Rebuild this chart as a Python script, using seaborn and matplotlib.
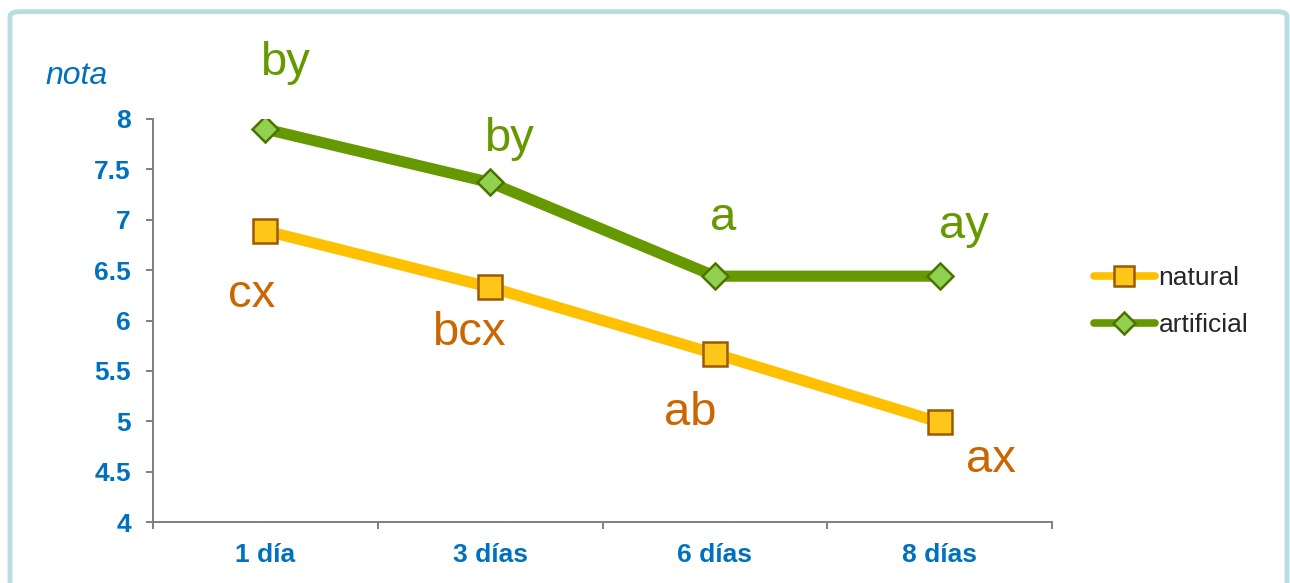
import matplotlib
matplotlib.use('Agg')
import matplotlib.pyplot as plt
from matplotlib.patches import FancyBboxPatch
import pandas as pd
import seaborn as sns

# datos
dias = ['1 día', '3 días', '6 días', '8 días']
natural = [6.89, 6.33, 5.67, 4.99]
artificial = [7.90, 7.37, 6.44, 6.44]
letras_natural = ['cx', 'bcx', 'ab', 'ax']
letras_artificial = ['by', 'by', 'a', 'ay']
yticks = [4, 4.5, 5, 5.5, 6, 6.5, 7, 7.5, 8]

df = pd.DataFrame({'dia': list(range(len(dias))) * 2,
                   'nota': natural + artificial,
                   'serie': ['natural'] * 4 + ['artificial'] * 4})

sns.set_style('white')
plt.rcParams['font.family'] = ['Liberation Sans', 'DejaVu Sans']

fig = plt.figure(figsize=(12.9, 5.83), dpi=100)
ax = fig.add_axes([153 / 1290, 1 - 522 / 583, 899 / 1290, 403 / 583])

# marco azul claro
marco = FancyBboxPatch((10 / 1290, -0.05), 1277 / 1290, 1.03,
                       boxstyle='round,pad=0,rounding_size=0.008',
                       transform=fig.transFigure, fill=False,
                       edgecolor='#B7DEE1', linewidth=3.5, zorder=0)
fig.patches.append(marco)

sns.lineplot(data=df[df['serie'] == 'natural'], x='dia', y='nota', ax=ax,
             color='#FFC000', lw=8, marker='s', markersize=17,
             markerfacecolor='#FFC61A', markeredgecolor='#9C5A00',
             markeredgewidth=1.8, label='natural', solid_capstyle='round')
sns.lineplot(data=df[df['serie'] == 'artificial'], x='dia', y='nota', ax=ax,
             color='#669900', lw=8, marker='D', markersize=13,
             markerfacecolor='#92D050', markeredgecolor='#4A7300',
             markeredgewidth=1.8, label='artificial', solid_capstyle='round')

# letras de significancia
off_art = [(20, 66), (19, 43), (8, 58), (24, 50)]
off_nat = [(-14, -64), (-21, -46), (-25, -59), (51, -38)]
for i in range(len(dias)):
    ax.annotate(letras_artificial[i], (i, artificial[i]), xytext=off_art[i],
                textcoords='offset pixels', ha='center', va='center',
                fontsize=34, color='#669900', annotation_clip=False)
    ax.annotate(letras_natural[i], (i, natural[i]), xytext=off_nat[i],
                textcoords='offset pixels', ha='center', va='center',
                fontsize=34, color='#CC6600', annotation_clip=False)

ax.set_xlim(-0.5, 3.5)
ax.set_ylim(4, 8)
ax.set_yticks(yticks)
ax.set_yticklabels([f'{v:g}' for v in yticks])
ax.set_xticks(range(len(dias)))
ax.set_xticklabels(dias)
ax.set_xticks([-0.5, 0.5, 1.5, 2.5, 3.5], minor=True)
ax.tick_params(axis='x', which='major', length=0, pad=15, labelsize=19,
               labelcolor='#0070C0')
ax.tick_params(axis='x', which='minor', length=5, width=1.4, color='#7F7F7F',
               direction='out', bottom=True)
ax.tick_params(axis='y', length=5, width=1.4, color='#7F7F7F', direction='out',
               pad=11, labelsize=19, labelcolor='#0070C0', left=True)
for t in ax.get_xticklabels() + ax.get_yticklabels():
    t.set_fontweight('bold')

sns.despine(ax=ax)
for s in ['left', 'bottom']:
    ax.spines[s].set_color('#7F7F7F')
    ax.spines[s].set_linewidth(1.4)

ax.set_xlabel('')
ax.set_ylabel('')
fig.text(45 / 1290, 1 - 76 / 583, 'nota', ha='left', va='center',
         style='italic', fontsize=23, color='#0070C0')

leg = ax.legend(loc='upper left', bbox_to_anchor=(1094 / 1290, 1 - 266 / 583),
                bbox_transform=fig.transFigure, frameon=False, borderpad=0,
                handlelength=2.3, handletextpad=0.15, labelspacing=0.87,
                fontsize=19, borderaxespad=0)
for h in leg.get_lines():
    h.set_linewidth(5.5)
    h.set_markersize(h.get_markersize() * 0.85)

fig.savefig('out.png', dpi=100, facecolor='white')
